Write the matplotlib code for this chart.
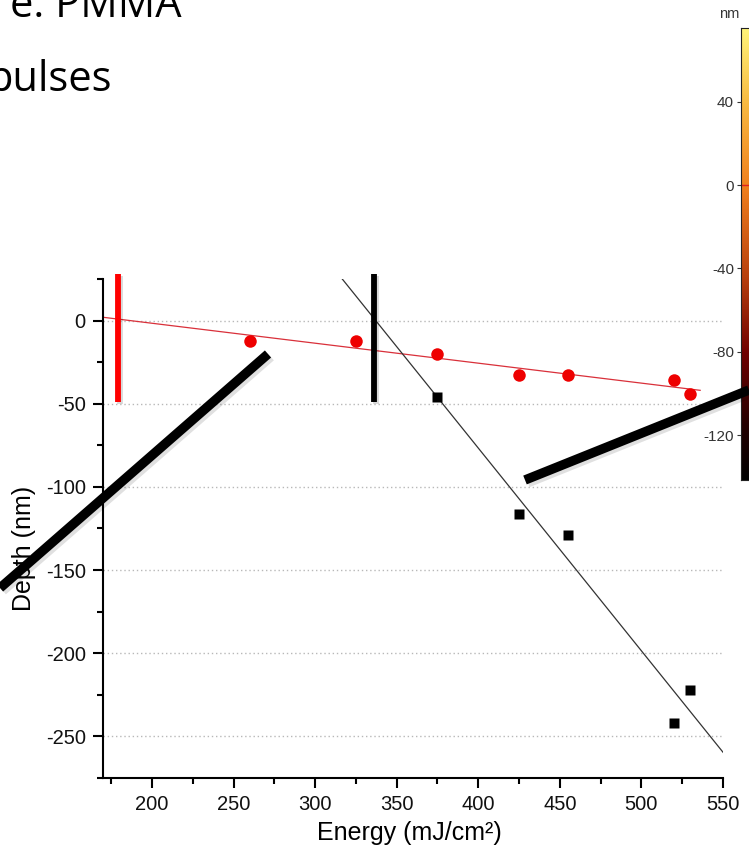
import numpy as np
import matplotlib
matplotlib.use("Agg")
import matplotlib.pyplot as plt
from matplotlib.lines import Line2D
from matplotlib.colors import LinearSegmentedColormap
from matplotlib.ticker import MultipleLocator
import matplotlib.patheffects as pe

# data
red_energy = [260, 325, 375, 425, 455, 520, 530]
red_depth = [-12, -12, -20, -33, -33, -36, -44]
black_energy = [375, 425, 455, 520, 530]
black_depth = [-46, -116, -129, -242, -222]
threshold_energy = [179, 336]   # red / black marker bars
cbar_ticks = [40, 0, -40, -80, -120]
cbar_range = (-141.6, 75.5)

W, H = 749, 850
plt.rcParams["font.family"] = ["Liberation Sans", "DejaVu Sans"]
plt.rcParams["axes.unicode_minus"] = False

fig = plt.figure(figsize=(W / 100, H / 100), dpi=100)


def fx(px):
    return px / W


def fy(py):
    return 1 - py / H


ax = fig.add_axes([fx(103), fy(778), fx(723) - fx(103), fy(279) - fy(778)])
ax.set_xlim(170, 550)
ax.set_ylim(-275, 25)

ax.xaxis.set_major_locator(MultipleLocator(50))
ax.xaxis.set_minor_locator(MultipleLocator(25))
ax.yaxis.set_major_locator(MultipleLocator(50))
ax.yaxis.set_minor_locator(MultipleLocator(25))
ax.set_xticks(range(200, 551, 50))
for s in ("top", "right"):
    ax.spines[s].set_visible(False)
for s in ("left", "bottom"):
    ax.spines[s].set_linewidth(1.5)
ax.tick_params(which="major", length=7.5, width=1.5, labelsize=14.5, pad=5,
               labelcolor="#111111")
ax.tick_params(which="minor", length=4.5, width=1.5)
ax.grid(axis="y", which="major", color="#b8b8b8", linestyle=(0, (1, 2)), linewidth=1)
ax.set_axisbelow(True)

# linear fits
e = np.linspace(170, 536, 50)
pr = np.polyfit(red_energy, red_depth, 1)
ax.plot(e, np.polyval(pr, e), color="#d9303a", lw=0.9)
e2 = np.linspace(170, 550, 50)
pb = np.polyfit(black_energy, black_depth, 1)
ax.plot(e2, np.polyval(pb, e2), color="#333333", lw=0.9)

ax.plot(red_energy, red_depth, "o", color="#ee0000", ms=9, mec="none")
ax.plot(black_energy, black_depth, "s", color="black", ms=7.5, mec="none")

# threshold bars
for xe, c in zip(threshold_energy, ["#ff0000", "black"]):
    ax.plot([xe, xe], [28, -49], color=c, lw=4.2, clip_on=False,
            solid_capstyle="butt",
            path_effects=[pe.SimpleLineShadow(offset=(1.5, -1.5), alpha=0.15),
                          pe.Normal()])

fig.text(fx(409), fy(833), "Energy (mJ/cm²)", fontsize=18, ha="center", va="center")
fig.text(fx(24), fy(548), "Depth (nm)", fontsize=18, ha="center", va="center",
         rotation=90)

# slide title fragments
fig.text(fx(182), fy(17), "e: PMMA", fontsize=30, family="Open Sans",
         ha="right", va="baseline")
fig.text(fx(112), fy(91), "pulses", fontsize=30, family="Open Sans",
         ha="right", va="baseline")

# colour bar strip at the right edge
cmap = LinearSegmentedColormap.from_list(
    "hot_strip",
    [(0.0, "#000000"), (0.12, "#240000"), (0.28, "#700000"),
     (0.45, "#b8400e"), (0.65, "#f0801e"), (0.83, "#f8b840"),
     (1.0, "#fff47a")])
cax = fig.add_axes([fx(741), fy(480), fx(760) - fx(741), fy(28) - fy(480)])
grad = np.linspace(cbar_range[0], cbar_range[1], 256).reshape(-1, 1)
cax.imshow(grad, aspect="auto", cmap=cmap, origin="lower",
           extent=[0, 1, cbar_range[0], cbar_range[1]])
cax.set_ylim(*cbar_range)
cax.set_xlim(0, 1)
cax.axhline(0, color="#e02020", lw=1)
cax.set_xticks([])
cax.set_yticks(cbar_ticks)
cax.tick_params(axis="y", labelsize=11, length=3, width=0.8, pad=2,
                colors="#333333")
for s in cax.spines.values():
    s.set_linewidth(0.8)
    s.set_color("#222222")
fig.text(fx(729), fy(14), "nm", fontsize=10.5, ha="center", va="center",
         color="#333333")

# thick annotation lines from the slide
for (x0, y0), (x1, y1) in [((0, 588), (268, 354)), ((525, 480), (749, 390))]:
    fig.add_artist(Line2D([fx(x0), fx(x1)], [fy(y0), fy(y1)],
                          transform=fig.transFigure, color="black", lw=6.8,
                          solid_capstyle="butt",
                          path_effects=[pe.SimpleLineShadow(offset=(2, -2), alpha=0.12),
                                        pe.Normal()]))

fig.savefig("out.png", dpi=100)
